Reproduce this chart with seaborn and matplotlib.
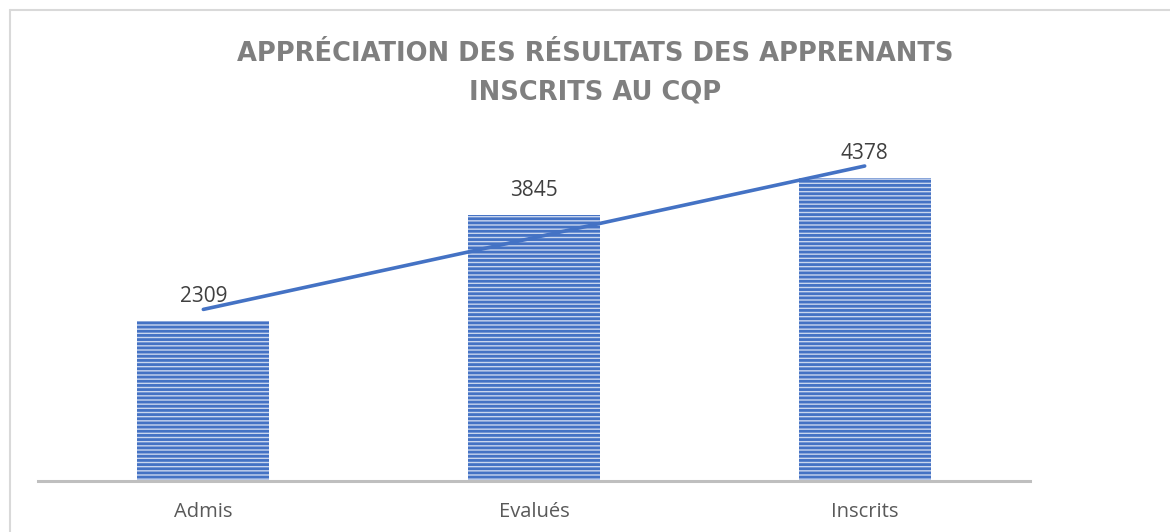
import pandas as pd
import matplotlib
matplotlib.use("Agg")
import matplotlib.pyplot as plt
import seaborn as sns
from matplotlib.lines import Line2D

# donnees du graphique
categories = ["Admis", "Evalués", "Inscrits"]
effectifs = [2309, 3845, 4378]
titre = "APPRÉCIATION DES RÉSULTATS DES APPRENANTS\nINSCRITS AU CQP"

df = pd.DataFrame({"categorie": categories, "effectif": effectifs})
df["pos"] = range(len(df))

sns.set_theme(style="white")
plt.rcParams["font.family"] = ["Open Sans", "DejaVu Sans"]
plt.rcParams["hatch.linewidth"] = 2.0

bleu = "#4472C4"

fig = plt.figure(figsize=(11.7, 5.32), dpi=100)
ax = fig.add_axes([38 / 1170, 51 / 532, 992 / 1170, 346.5 / 532])

# barres hachurees
sns.barplot(data=df, x="categorie", y="effectif", color="#c9d6ee",
            width=0.4, saturation=1, ax=ax)
for bar in ax.patches:
    bar.set_hatch("----")
    bar.set_edgecolor(bleu)
    bar.set_linewidth(0)

# etiquettes de valeurs
ax.bar_label(ax.containers[0], padding=10, fontsize=15, color="#404040")

# courbe de tendance lineaire
sns.regplot(data=df, x="pos", y="effectif", scatter=False, ci=None,
            truncate=True, color=bleu, line_kws={"linewidth": 2.6}, ax=ax)

ax.set_xlim(-0.5, 2.5)
ax.set_ylim(0, 5000)
ax.set_xticks(df["pos"])
ax.set_xticklabels(categories, fontsize=14.5, color="#595959")
ax.set_yticks([])
ax.set_xlabel("")
ax.set_ylabel("")
ax.tick_params(axis="x", length=0, pad=15)
for side in ["left", "right", "top"]:
    ax.spines[side].set_visible(False)
ax.spines["bottom"].set_color("#bfbfbf")
ax.spines["bottom"].set_linewidth(2.2)

# titre
fig.text(595 / 1170, 1 - 73 / 532, titre, ha="center", va="center",
         fontsize=18.5, fontweight="bold", color="#7f7f7f",
         family=["DejaVu Sans"], linespacing=1.65)

# cadre du graphique
fig.add_artist(Line2D([10 / 1170, 1], [1 - 10 / 532] * 2,
                      color="#d9d9d9", lw=1.5, transform=fig.transFigure))
fig.add_artist(Line2D([10 / 1170] * 2, [0, 1 - 10 / 532],
                      color="#d9d9d9", lw=1.5, transform=fig.transFigure))

fig.savefig("out.png", dpi=100)
